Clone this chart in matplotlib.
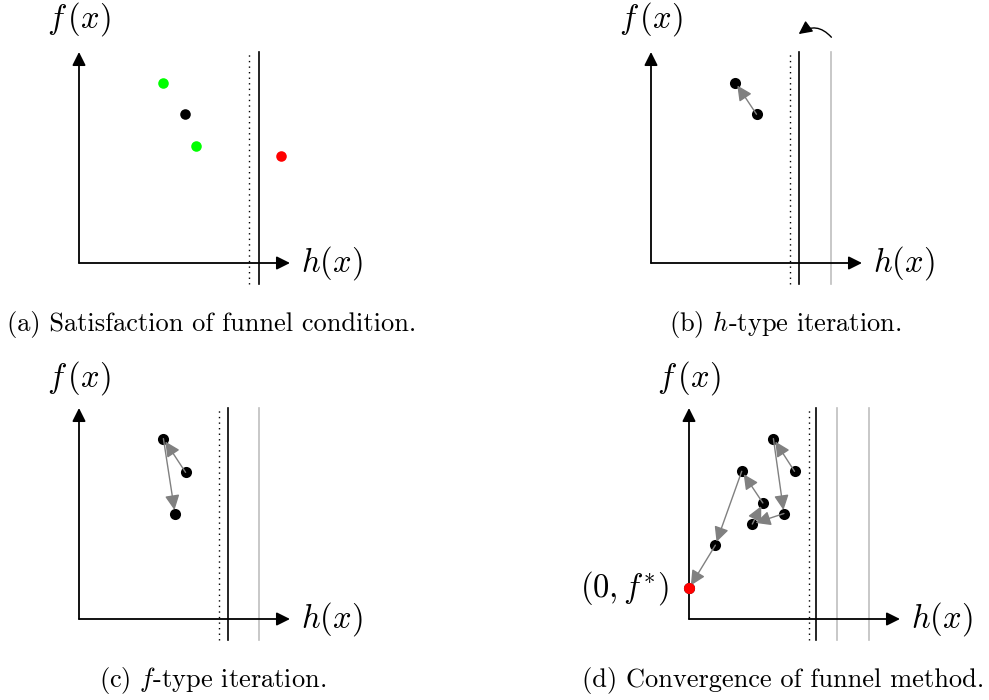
import matplotlib
matplotlib.use("Agg")
import matplotlib.pyplot as plt

plt.rcParams['mathtext.fontset'] = 'cm'

# Panel data, in units along h(x) and f(x); axes run 0..10
# (a) funnel condition
a_green_h = [4.0, 5.55]
a_green_f = [8.55, 5.55]
a_black_h = [5.0]
a_black_f = [7.05]
a_red_h = [9.55]
a_red_f = [5.05]
a_dotted = 8.05
a_solid = 8.55
a_gray = []

# (b) h-type iteration (path order)
b_path_h = [5.0, 4.0]
b_path_f = [7.05, 8.55]
b_dotted = 6.6
b_solid = 7.0
b_gray = [8.55]

# (c) f-type iteration
c_path_h = [5.05, 4.0, 4.55]
c_path_f = [6.95, 8.55, 5.0]
c_dotted = 6.65
c_solid = 7.05
c_gray = [8.55]

# (d) convergence, ending at (0, f*)
d_path_h = [5.0, 4.0, 4.5, 3.0, 3.5, 2.5, 1.25]
d_path_f = [7.0, 8.55, 5.0, 4.5, 5.5, 7.0, 3.5]
d_opt_h = [0.0]
d_opt_f = [1.45]
d_dotted = 5.7
d_solid = 6.0
d_gray = [7.0, 8.55]

captions = ["(a) Satisfaction of funnel condition.",
            "(b) $h$-type iteration.",
            "(c) $f$-type iteration.",
            "(d) Convergence of funnel method."]

W, H = 989, 700
SCALE = 21.1  # px per unit
GRAY = '#808080'
LIGHT = '#bfbfbf'
GREEN = '#00ff00'
RED = '#ff0000'

fig = plt.figure(figsize=(W / 100, H / 100), dpi=100)


def make_axes(box, origin):
    x0, y0, x1, y1 = box
    ox, oy = origin
    ax = fig.add_axes([x0 / W, 1 - y1 / H, (x1 - x0) / W, (y1 - y0) / H])
    ax.set_xlim((x0 - ox) / SCALE, (x1 - ox) / SCALE)
    ax.set_ylim((oy - y1) / SCALE, (oy - y0) / SCALE)
    ax.axis('off')
    return ax


def draw_frame(ax, dotted, solid, gray, flabel_y):
    ax.annotate('', xy=(10, 0), xytext=(0, 0),
                arrowprops=dict(arrowstyle='-|>,head_length=0.4,head_width=0.2',
                                lw=1.3, color='black', mutation_scale=20,
                                shrinkA=0, shrinkB=0))
    ax.annotate('', xy=(0, 10), xytext=(0, 0),
                arrowprops=dict(arrowstyle='-|>,head_length=0.4,head_width=0.2',
                                lw=1.3, color='black', mutation_scale=20,
                                shrinkA=0, shrinkB=0))
    ax.plot([dotted, dotted], [-1.0, 10.0], color='black', lw=1.0,
            linestyle=(0, (1, 3)))
    ax.plot([solid, solid], [-1.0, 10.0], color='black', lw=1.2)
    for g in gray:
        ax.plot([g, g], [-1.0, 10.0], color=LIGHT, lw=1.2)
    ax.text(0, flabel_y, '$f\\,(x)$', fontsize=23.5, ha='center', va='center')
    ax.text(12.0, 0, '$h(x)$', fontsize=23.5, ha='center', va='center')


def draw_path(ax, hs, fs):
    for i in range(len(hs) - 1):
        ax.annotate('', xy=(hs[i + 1], fs[i + 1]), xytext=(hs[i], fs[i]),
                    arrowprops=dict(arrowstyle='-|>,head_length=0.45,head_width=0.22',
                                    lw=1.0, color=GRAY, mutation_scale=20,
                                    shrinkA=0, shrinkB=2.5))
    ax.plot(hs, fs, 'o', color='black', ms=8, mew=0, linestyle='none', zorder=1)


# (a)
ax = make_axes((0, 0, 494, 350), (79, 263))
draw_frame(ax, a_dotted, a_solid, a_gray, 11.55)
ax.plot(a_green_h, a_green_f, 'o', color=GREEN, ms=7.6, mew=0, linestyle='none')
ax.plot(a_black_h, a_black_f, 'o', color='black', ms=7.6, mew=0, linestyle='none')
ax.plot(a_red_h, a_red_f, 'o', color=RED, ms=7.6, mew=0, linestyle='none')

# (b)
ax = make_axes((494, 0, 989, 350), (651, 263))
draw_frame(ax, b_dotted, b_solid, b_gray, 11.55)
draw_path(ax, b_path_h, b_path_f)
ax.annotate('', xy=(b_solid, 10.85), xytext=(b_gray[0], 10.7),
            arrowprops=dict(arrowstyle='-|>,head_length=0.4,head_width=0.2',
                            lw=1.0, color='black', mutation_scale=20,
                            shrinkA=0, shrinkB=0,
                            connectionstyle='arc3,rad=0.45'))

# (c)
ax = make_axes((0, 350, 494, 700), (79, 619))
draw_frame(ax, c_dotted, c_solid, c_gray, 11.4)
draw_path(ax, c_path_h, c_path_f)

# (d)
ax = make_axes((494, 350, 989, 700), (689, 619))
draw_frame(ax, d_dotted, d_solid, d_gray, 11.4)
draw_path(ax, d_path_h + d_opt_h, d_path_f + d_opt_f)
ax.plot(d_opt_h, d_opt_f, 'o', color=RED, ms=8, mew=0, linestyle='none',
        zorder=3)
ax.text(-0.95, d_opt_f[0], '$(0,f^{*})$', fontsize=23.5, ha='right', va='center')

# captions
cap_pos = [(212, 324), (785, 324), (213, 681), (783, 681)]
for text, (cx, cy) in zip(captions, cap_pos):
    fig.text(cx / W, 1 - cy / H, text, fontsize=19, family='cmr10',
             ha='center', va='center')

fig.savefig('out.png', dpi=100)
